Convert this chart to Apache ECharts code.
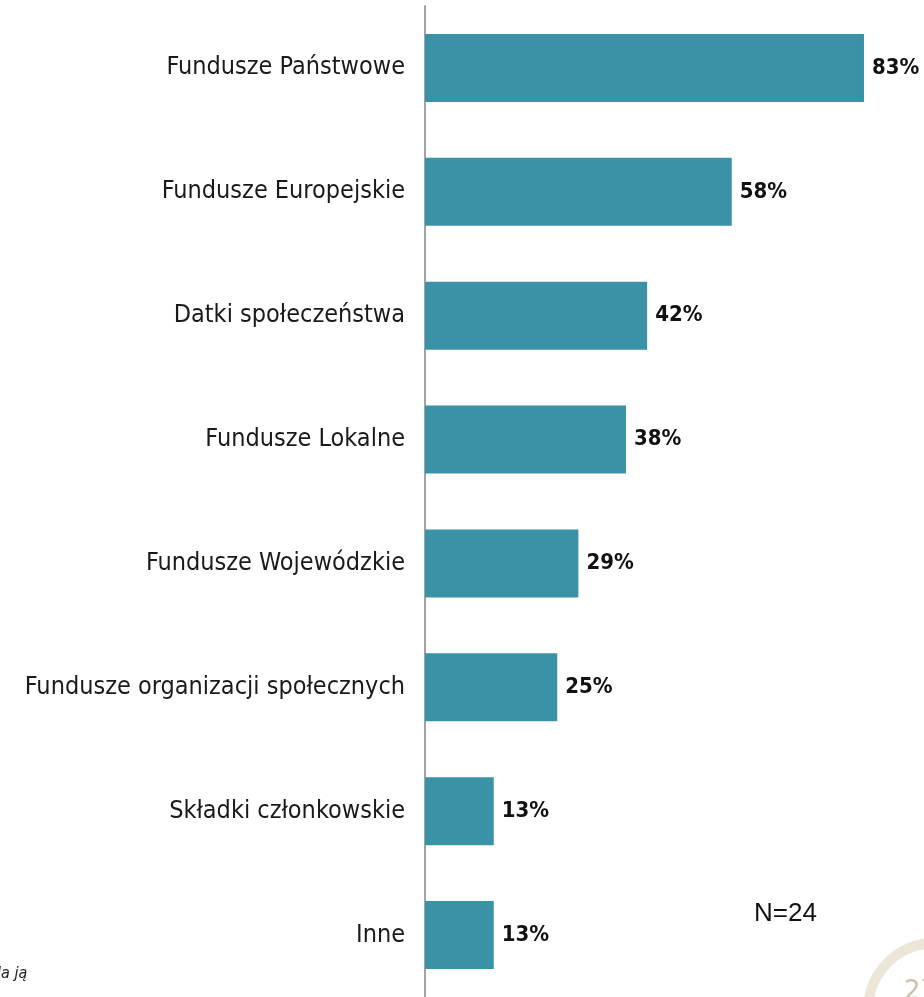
<!DOCTYPE html>
<html>
<head>
<meta charset="utf-8">
<script src="https://cdn.jsdelivr.net/npm/echarts@6/dist/echarts.min.js"></script>
<style>
  html, body { margin: 0; padding: 0; background: #fff; }
  #chart { width: 924px; height: 997px; }
</style>
</head>
<body>
<div id="chart"></div>
<script>
// źródła finansowania, od góry
const categories = [
    'Fundusze Państwowe',
    'Fundusze Europejskie',
    'Datki społeczeństwa',
    'Fundusze Lokalne',
    'Fundusze Wojewódzkie',
    'Fundusze organizacji społecznych',
    'Składki członkowskie',
    'Inne'
];
const values = [83, 58, 42, 38, 29, 25, 13, 13];
const sampleNote = 'N=24';
const pageNo = '27';

const chart = echarts.init(document.getElementById('chart'));

const option = {
    animation: false,
    grid: { left: 425, right: 23, top: 6, bottom: -6, containLabel: false },
    xAxis: {
        type: 'value',
        min: 0,
        max: 90,
        show: false
    },
    yAxis: {
        type: 'category',
        inverse: true,
        data: categories,
        axisLine: { show: true, lineStyle: { color: '#a3a3a3', width: 2 } },
        axisTick: { show: false },
        axisLabel: {
            margin: 20,
            fontFamily: 'DejaVu Sans Condensed',
            fontSize: 25,
            color: '#1a1a1a'
        }
    },
    series: [{
        type: 'bar',
        data: values,
        barWidth: 68,
        itemStyle: { color: '#3a92a7' },
        label: {
            show: true,
            position: 'right',
            distance: 8,
            formatter: p => p.value + '%',
            fontFamily: 'DejaVu Sans Condensed',
            fontWeight: 'bold',
            fontSize: 22,
            color: '#111'
        }
    }],
    graphic: [
        {
            type: 'text', left: 754, top: 901,
            style: { text: sampleNote, font: '26px "Liberation Sans", Arial', fill: '#111' }
        },
        {
            type: 'text', left: -3, top: 966,
            style: { text: 'la ją', font: 'italic 16px "DejaVu Sans Condensed"', fill: '#222' }
        },
        {
            type: 'circle', shape: { cx: 935, cy: 1010, r: 67 },
            style: { fill: 'none', stroke: '#ebe6d8', lineWidth: 10 }
        },
        {
            type: 'text', left: 904, top: 979,
            style: { text: pageNo, font: '26px "DejaVu Sans"', fill: '#c9c1ad' }
        }
    ]
};

chart.setOption(option);
</script>
</body>
</html>
